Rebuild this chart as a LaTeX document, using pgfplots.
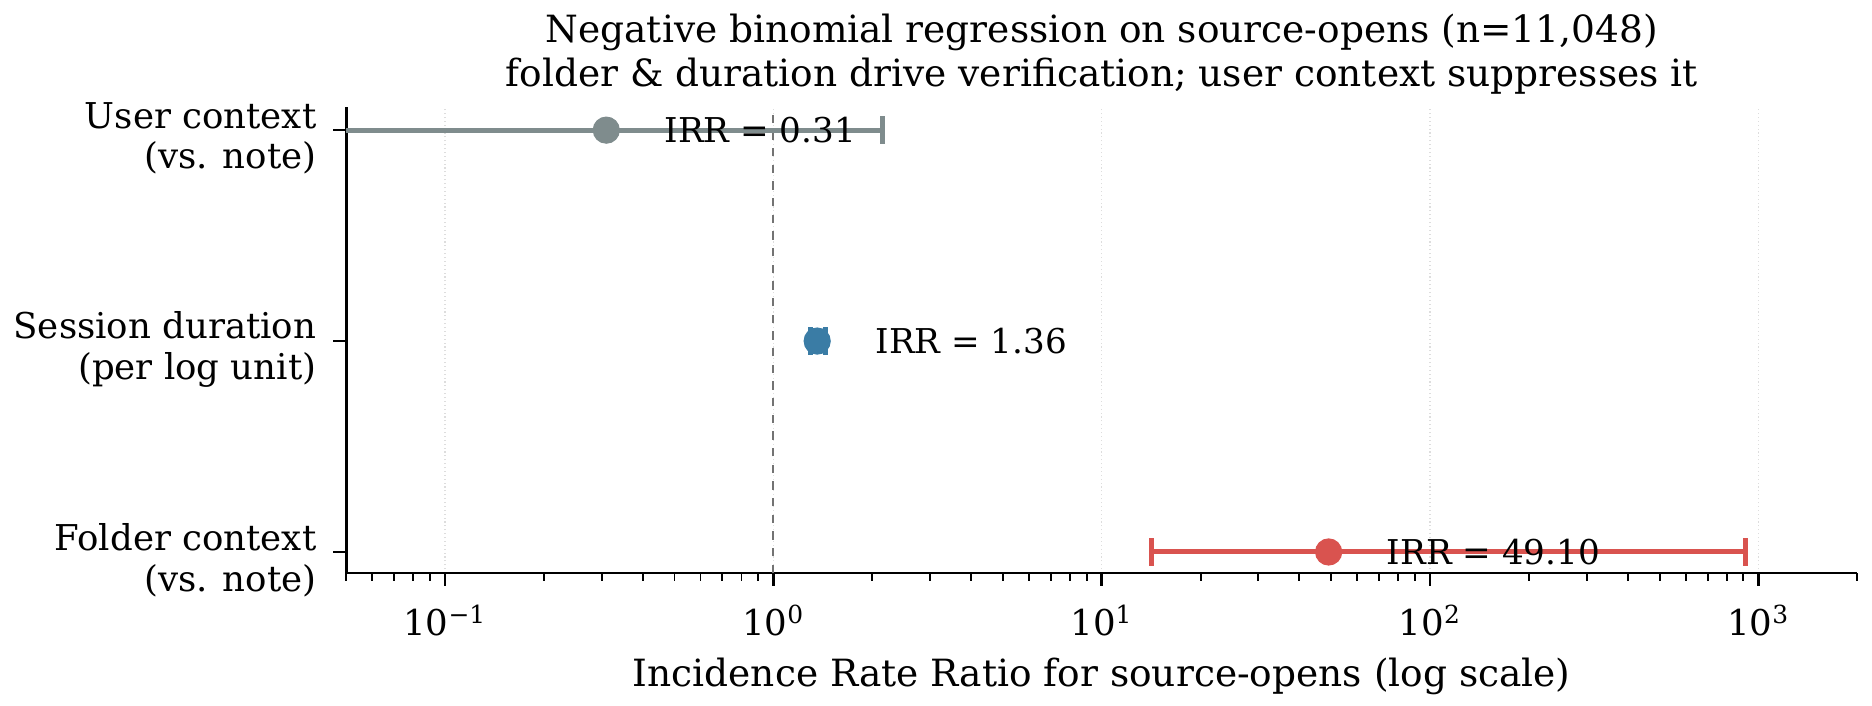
\documentclass[border=0pt]{standalone}
\usepackage{fontspec}
\setmainfont{DejaVu Serif}
\usepackage{pgfplots}
\pgfplotsset{compat=1.18}

\definecolor{cgray}{HTML}{7F8C8D}
\definecolor{cblue}{HTML}{3A7CA5}
\definecolor{cred}{HTML}{D9534F}
\definecolor{gridc}{HTML}{DDDDDD}

\begin{document}
\begin{tikzpicture}
\begin{axis}[
  scale only axis,
  width=544pt, height=167.8pt,
  xmode=log, log basis x=10,
  xmin=0.05, xmax=2000,
  ymin=-0.1, ymax=2.11,
  axis x line*=bottom, axis y line*=left,
  axis line style={line width=1pt, -},
  tick align=outside,
  major tick length=4.6pt, minor tick length=2.7pt,
  every tick/.style={black, line width=0.9pt},
  minor tick style={line width=0.7pt},
  xtick={0.1,1,10,100,1000},
  minor xtick={0.05,0.06,0.07,0.08,0.09,0.2,0.3,0.4,0.5,0.6,0.7,0.8,0.9,2,3,4,5,6,7,8,9,20,30,40,50,60,70,80,90,200,300,400,500,600,700,800,900,2000},
  xticklabels={10\textsuperscript{\char"2212 1},10\textsuperscript{0},10\textsuperscript{1},10\textsuperscript{2},10\textsuperscript{3}},
  ytick={0,1,2},
  yticklabels={Folder context\\(vs. note),Session duration\\(per log unit),User context\\(vs. note)},
  yticklabel style={align=right, font=\fontsize{12.8}{14.5}\selectfont, xshift=-2.6pt, yshift=-3pt},
  xticklabel style={font=\fontsize{12.8}{14.5}\selectfont, yshift=-3.4pt},
  xmajorgrids,
  major grid style={gridc, densely dotted, line width=0.5pt},
  xlabel={Incidence Rate Ratio for source-opens (log scale)},
  xlabel style={font=\fontsize{13.5}{15}\selectfont, yshift=-0.9pt},
  title={Negative binomial regression on source-opens (n=11,048)\\folder \& duration drive verification; user context suppresses it},
  title style={align=center, font=\fontsize{13.5}{16}\selectfont, yshift=-5pt},
  clip=true,
]
% reference line at IRR = 1
\addplot[draw=black!55, dashed, line width=0.7pt] coordinates {(1,-0.1) (1,2.11)};

% confidence intervals
\addplot[cgray, line width=1.8pt] coordinates {(0.045,2) (2.15,2)};
\addplot[cgray, only marks, mark=|, mark size=5pt, mark options={line width=1.8pt}] coordinates {(2.15,2)};

\addplot[cblue, line width=1.8pt] coordinates {(1.30,1) (1.44,1)};
\addplot[cblue, only marks, mark=|, mark size=5pt, mark options={line width=1.8pt}] coordinates {(1.30,1) (1.44,1)};

\addplot[cred, line width=1.8pt] coordinates {(14.2,0) (910,0)};
\addplot[cred, only marks, mark=|, mark size=5pt, mark options={line width=1.8pt}] coordinates {(14.2,0) (910,0)};

% point estimates
\addplot[only marks, mark=*, mark size=4.7pt, cgray, mark options={draw=none, fill=cgray}] coordinates {(0.31,2)};
\addplot[only marks, mark=*, mark size=4.7pt, cblue, mark options={draw=none, fill=cblue}] coordinates {(1.36,1)};
\addplot[only marks, mark=*, mark size=4.7pt, cred, mark options={draw=none, fill=cred}] coordinates {(49.10,0)};

% value labels
\node[anchor=west, inner sep=0pt, font=\fontsize{12.3}{14}\selectfont] at (axis cs:0.465,2) {IRR = 0.31};
\node[anchor=west, inner sep=0pt, font=\fontsize{12.3}{14}\selectfont] at (axis cs:2.04,1) {IRR = 1.36};
\node[anchor=west, inner sep=0pt, font=\fontsize{12.3}{14}\selectfont] at (axis cs:73.6,0) {IRR = 49.10};
\end{axis}
\pgfresetboundingbox
\path[use as bounding box] (-124.6pt,-47.5pt) rectangle (549.3pt,206.3pt);
\end{tikzpicture}
\end{document}
